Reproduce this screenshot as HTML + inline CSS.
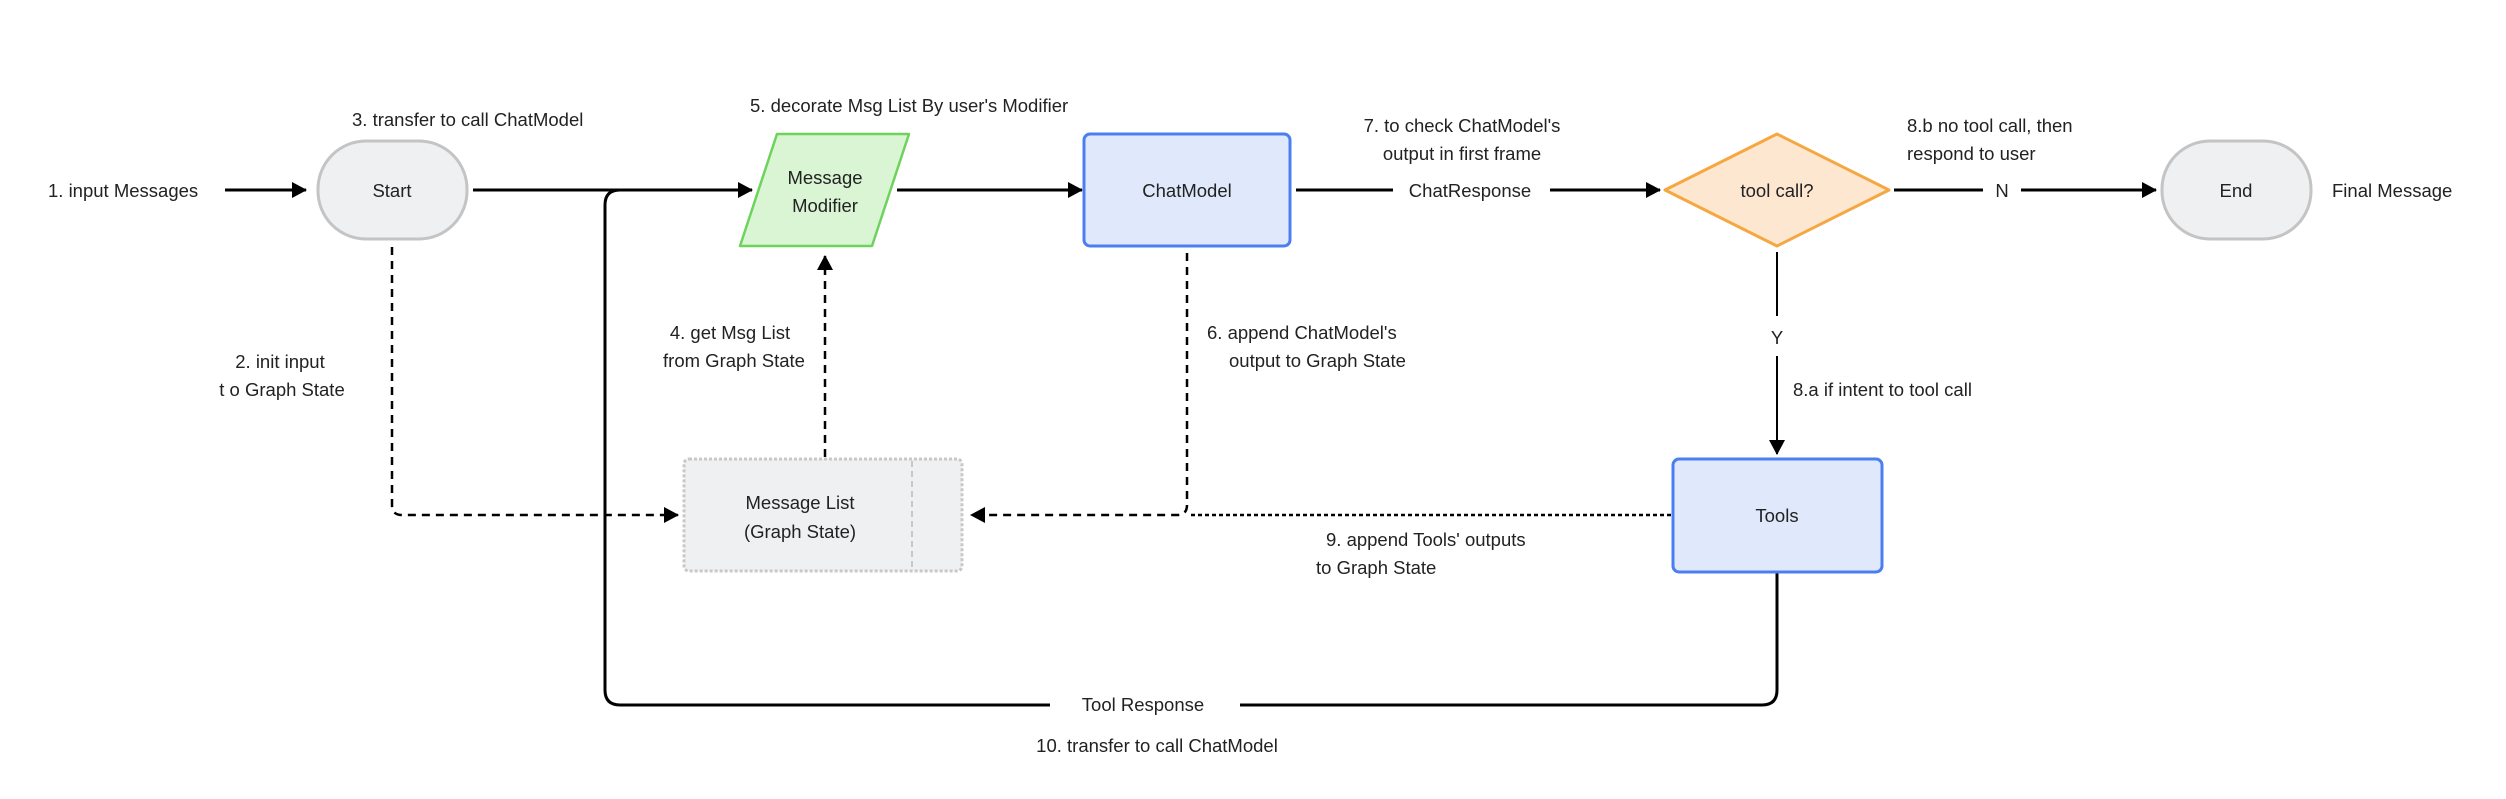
<!DOCTYPE html>
<html><head><meta charset="utf-8"><style>
html,body{margin:0;padding:0;background:#fff}
svg{display:block}
text{font-family:"Liberation Sans",sans-serif;font-size:18.5px;fill:#222}
</style></head><body>
<svg width="2506" height="799" viewBox="0 0 2506 799" xmlns="http://www.w3.org/2000/svg">
<defs>
<marker id="ah2" markerWidth="16" markerHeight="16" refX="14" refY="8" orient="auto" markerUnits="userSpaceOnUse">
<path d="M0,0 L15,8 L0,16 z" fill="#000"/></marker>
</defs>

<!-- lines -->
<g fill="none" stroke="#000" stroke-width="3">
<line x1="225" y1="190" x2="306" y2="190" marker-end="url(#ah2)"/>
<line x1="473" y1="190" x2="752" y2="190" marker-end="url(#ah2)"/>
<line x1="897" y1="190" x2="1082" y2="190" marker-end="url(#ah2)"/>
<line x1="1296" y1="190" x2="1393" y2="190"/>
<line x1="1550" y1="190" x2="1660" y2="190" marker-end="url(#ah2)"/>
<line x1="1894" y1="190" x2="1983" y2="190"/>
<line x1="2021" y1="190" x2="2156" y2="190" marker-end="url(#ah2)"/>
<path d="M1777,572 V690 Q1777,705 1762,705 H1240"/>
<path d="M1050,705 H620 Q605,705 605,690 V205 Q605,190 620,190"/>
</g>
<g fill="none" stroke="#000" stroke-width="2">
<line x1="1777" y1="252" x2="1777" y2="316"/>
<line x1="1777" y1="356" x2="1777" y2="454" marker-end="url(#ah2)"/>
</g>
<g fill="none" stroke="#000" stroke-width="2.5" stroke-dasharray="8,6">
<line x1="825" y1="457" x2="825" y2="256" marker-end="url(#ah2)"/>
<path d="M1187,253 V505 Q1187,515 1177,515 H971" marker-end="url(#ah2)"/>
<line x1="1671" y1="515" x2="1190" y2="515" stroke-dasharray="4,3"/>
</g>
<path d="M392,247 V505 Q392,515 402,515 H678" fill="none" stroke="#000" stroke-width="2.5" stroke-dasharray="8,6" marker-end="url(#ah2)"/>

<!-- nodes -->
<rect x="318" y="141" width="149" height="98" rx="48" fill="#eff0f2" stroke="#c4c4c4" stroke-width="3"/>
<text x="392" y="197" text-anchor="middle">Start</text>
<rect x="2162" y="141" width="149" height="98" rx="48" fill="#eff0f2" stroke="#c4c4c4" stroke-width="3"/>
<text x="2236" y="197" text-anchor="middle">End</text>
<polygon points="777,134 909,134 872,246 740,246" fill="#d9f5d4" stroke="#6dd35c" stroke-width="2.5" stroke-linejoin="round"/>
<text x="825" y="184" text-anchor="middle">Message</text>
<text x="825" y="212" text-anchor="middle">Modifier</text>
<rect x="1084" y="134" width="206" height="112" rx="6" fill="#e0e9fc" stroke="#4b7ff0" stroke-width="3"/>
<text x="1187" y="197" text-anchor="middle">ChatModel</text>
<polygon points="1777,134 1889,190 1777,246 1665,190" fill="#fde7d1" stroke="#f5a742" stroke-width="3" stroke-linejoin="round"/>
<text x="1777" y="197" text-anchor="middle">tool call?</text>
<rect x="1673" y="459" width="209" height="113" rx="6" fill="#e0e9fc" stroke="#4b7ff0" stroke-width="3"/>
<text x="1777" y="522" text-anchor="middle">Tools</text>
<rect x="684" y="459" width="278" height="112" rx="5" fill="#eff0f2" stroke="#c8c8c8" stroke-width="3" stroke-dasharray="3,2"/>
<line x1="912" y1="461" x2="912" y2="569" stroke="#c8c8c8" stroke-width="2" stroke-dasharray="6,4"/>
<text x="800" y="509" text-anchor="middle">Message List</text>
<text x="800" y="538" text-anchor="middle">(Graph State)</text>

<!-- labels -->
<text x="48" y="197">1. input Messages</text>
<text x="352" y="126">3. transfer to call ChatModel</text>
<text x="750" y="112">5. decorate Msg List By user's Modifier</text>
<text x="280" y="368" text-anchor="middle">2. init input</text>
<text x="282" y="396" text-anchor="middle">t o Graph State</text>
<text x="730" y="339" text-anchor="middle">4. get Msg List</text>
<text x="734" y="367" text-anchor="middle">from Graph State</text>
<text x="1207" y="339">6. append ChatModel's</text>
<text x="1229" y="367">output to Graph State</text>
<text x="1462" y="132" text-anchor="middle">7. to check ChatModel's</text>
<text x="1462" y="160" text-anchor="middle">output in first frame</text>
<text x="1470" y="197" text-anchor="middle">ChatResponse</text>
<text x="1907" y="132">8.b no tool call, then</text>
<text x="1907" y="160">respond to user</text>
<text x="2002" y="197" text-anchor="middle">N</text>
<text x="2332" y="197">Final Message</text>
<text x="1777" y="344" text-anchor="middle">Y</text>
<text x="1793" y="396">8.a if intent to tool  call</text>
<text x="1326" y="546">9. append Tools' outputs</text>
<text x="1316" y="574">to Graph State</text>
<text x="1143" y="711" text-anchor="middle">Tool Response</text>
<text x="1157" y="752" text-anchor="middle">10. transfer to  call ChatModel</text>
</svg>
</body></html>
